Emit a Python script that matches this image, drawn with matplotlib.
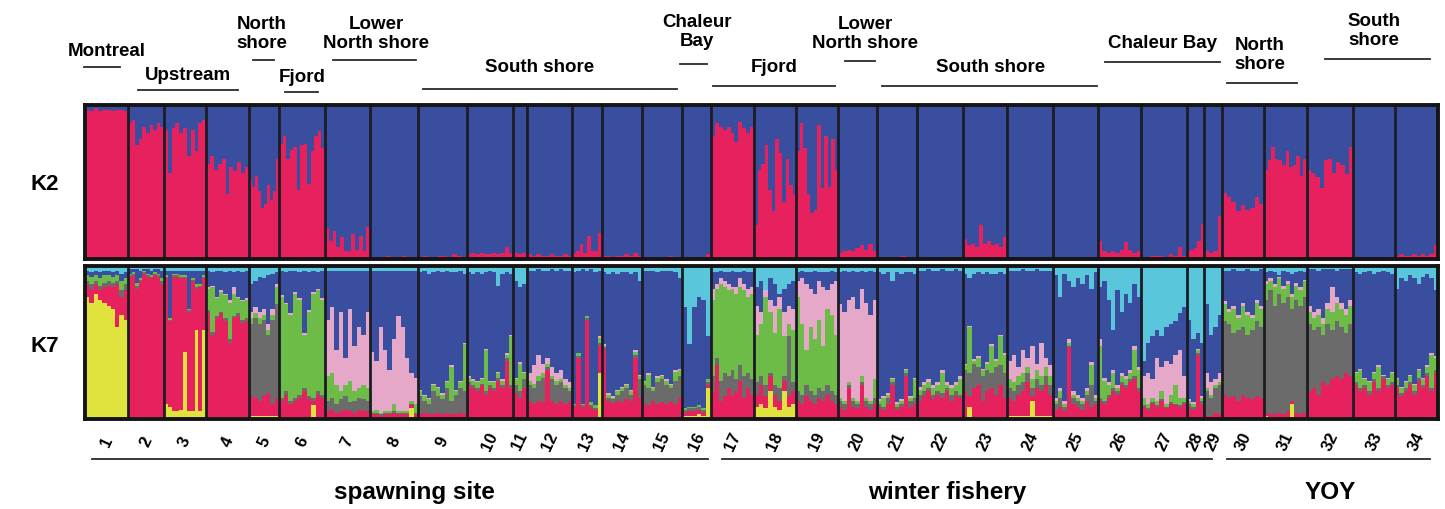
import numpy as np
import matplotlib.pyplot as plt
from matplotlib.lines import Line2D
from matplotlib.transforms import blended_transform_factory

plt.rcParams['font.family'] = ['Liberation Sans', 'DejaVu Sans']
plt.rcParams['font.weight'] = 'bold'

W, H = 1445, 510

# sample size of each population (sets the width of its block)
sample_sizes = [43, 36, 42, 43, 30, 46, 45, 48, 49, 46, 14, 45, 30, 40, 40, 29, 43,
                42, 42, 39, 40, 46, 44, 46, 45, 43, 46, 17, 18, 42, 43, 46, 42, 43]
pop_labels = [str(i) for i in range(1, 35)]

# K=2: membership (%) in the "red" cluster, one value per individual
k2_red = [
    [97, 96, 98, 96, 97, 97, 96, 97, 97, 96],
    [88, 90, 74, 78, 86, 82, 87, 84, 88, 86],
    [84, 56, 85, 88, 82, 85, 67, 84, 70, 88, 90],
    [62, 67, 58, 62, 65, 42, 60, 57, 63, 56, 60],
    [51, 47, 54, 44, 33, 36, 48, 38, 44, 65],
    [75, 80, 65, 71, 73, 45, 74, 75, 49, 70, 80, 83, 72],
    [20, 12, 18, 8, 14, 5, 5, 16, 6, 15, 5, 21],
    [1, 1, 1, 2, 1, 1, 2, 1, 1],
    [1, 2, 1, 1, 2, 2, 1, 3, 2, 1],
    [3, 4, 3, 4, 3, 3, 4, 3, 4, 8, 4],
    [4, 3, 4],
    [3, 2, 3, 2, 2, 3, 2, 2, 3, 2],
    [4, 5, 10, 4, 15, 5, 5, 17],
    [2, 2, 1, 2, 2, 3, 2, 4, 2],
    [1, 1, 1, 1, 1, 1, 2, 1, 1],
    [1, 1, 1, 1, 1, 3],
    [80, 88, 86, 84, 86, 82, 76, 89, 85, 82, 86],
    [22, 58, 62, 74, 45, 31, 78, 69, 37, 65, 48, 42],
    [70, 88, 72, 42, 30, 32, 87, 46, 80, 47, 78, 58],
    [4, 5, 6, 5, 7, 9, 6, 10, 5],
    [1, 1, 1, 1, 2, 1, 1],
    [1, 1, 1, 1, 1, 1, 1, 1],
    [13, 9, 10, 8, 22, 10, 12, 9, 10, 8, 14],
    [0.5, 0.5, 0.5, 0.5, 0.5, 0.5],
    [0.5, 0.5, 0.5, 0.5, 0.5],
    [12, 5, 4, 5, 4, 6, 11, 6, 4, 5],
    [1, 1, 2, 2, 2, 1, 3, 2, 8, 2],
    [5, 6, 7, 12, 23],
    [5, 4, 5, 28],
    [43, 40, 37, 31, 35, 32, 33, 40, 36],
    [58, 64, 73, 65, 64, 61, 70, 60, 61, 67, 54, 65],
    [58, 56, 53, 46, 64, 65, 56, 63, 61, 55, 73],
    [1, 1, 1, 1, 1, 1, 1, 1],
    [2, 3, 2, 2, 3, 2, 3, 2, 3, 9],
]

# K=7: cumulative upper edge (%) of each cluster, stacked from the bottom
# (yellow, red, gray, green, pink, blue; cyan fills the rest). A single
# number means the same value for every individual of that population.
k7_yellow = [
    [80, 76, 82, 78, 76, 74, 72, 60, 68, 65], 1, [10, 8, 5, 5, 6, 44, 5, 5, 58, 5, 58], 1, 2,
    [1, 1, 1, 1, 1, 1, 1, 9, 1, 1], 0, [1, 1, 1, 1, 1, 1, 1, 1, 1, 7, 1], 0, 0, 0, 1,
    [1, 1, 1, 1, 1, 1, 30], 1, 0, [2, 2, 2, 3, 2, 20], 0, [8, 10, 7, 18, 8, 6, 18, 8, 10],
    1, 1, 0, 1, [1, 8, 1, 1, 1, 1, 1, 1, 1, 1], [2, 2, 2, 2, 2, 12, 2, 2, 2, 2], 0, 1, 1,
    0, 0, 0, [2, 1, 1, 1, 1, 1, 10, 1, 1, 1], 1, 0, 0,
]
k7_red = [
    [88, 85, 88, 84, 86, 87, 86, 88, 80, 84],
    [93, 94, 85, 90, 95, 93, 92, 94, 93, 88],
    [92, 64, 93, 93, 92, 92, 70, 90, 85, 86, 92],
    [70, 55, 66, 69, 64, 50, 66, 67, 63, 64],
    [16, 14, 12, 15, 17, 10, 14],
    [12, 16, 10, 12, 14, 18, 13, 12, 16, 14],
    [5, 6, 4, 5, 6, 5, 4, 6, 5, 5],
    [3, 3, 2, 3, 3, 4, 3, 3, 3, 9, 3],
    [3, 4, 3, 3, 4, 3, 4, 3, 3, 4, 3],
    [22, 20, 18, 22, 16, 20, 18, 25, 20, 38, 20],
    [17, 14, 20],
    [12, 10, 12, 11, 32, 12, 10, 12, 10, 12],
    [8, 40, 8, 65, 8, 6, 48],
    [46, 12, 10, 12, 11, 13, 12, 40, 14],
    [10, 9, 12, 10, 11, 10, 12, 10, 14],
    [4, 5, 5, 6, 4, 22],
    [18, 35, 12, 15, 20, 15, 18, 25, 14, 20, 16],
    [16, 22, 15, 28, 16, 12, 25, 15, 18],
    [12, 10, 15, 12, 10, 14, 12, 16, 12, 10],
    [8, 6, 20, 8, 7, 22, 8, 6, 10],
    [8, 6, 10, 22, 6, 8, 28, 8, 10],
    [12, 15, 18, 13, 16, 14, 18, 12, 15, 14],
    [18, 15, 20, 22, 12, 18, 20, 16, 22, 14],
    [14, 12, 16, 18, 24, 15, 20, 18, 22, 16],
    [6, 8, 5, 47, 10, 8, 6, 12, 8, 10],
    [12, 10, 14, 18, 16, 22, 20, 24, 26, 18],
    [8, 6, 10, 8, 12, 7, 10, 9, 8, 10],
    [8, 6, 42, 10],
    [2, 2, 4, 3],
    [16, 14, 15, 12, 16, 14, 13, 15, 14],
    [4, 3, 3, 4, 3, 5, 12, 4, 3, 4],
    [18, 20, 16, 24, 22, 26, 28, 26, 30, 28],
    [22, 18, 20, 16, 24, 18, 26, 20, 22],
    [20, 15, 18, 22, 16, 25, 20, 28, 18, 30],
]
k7_gray = [
    [90, 88, 90, 87, 89, 90, 89, 90, 84, 88],
    [94, 95, 87, 91, 96, 94, 93, 95, 94, 90],
    [93, 65, 94, 94, 93, 93, 71, 91, 86, 87, 93],
    [71, 57, 67, 70, 66, 52, 67, 69, 65, 66],
    [62, 66, 62, 65, 55, 65, 75],
    [14, 18, 12, 14, 16, 20, 15, 14, 18, 16],
    [12, 14, 10, 13, 15, 11, 12, 14, 13, 12],
    [4, 4, 3, 4, 4, 5, 4, 4, 4, 10, 4],
    [15, 12, 10, 18, 15, 13, 20, 12, 16, 20, 18],
    [24, 22, 20, 23, 18, 22, 20, 27, 22, 40, 22],
    [22, 18, 26],
    [22, 20, 25, 27, 34, 26, 22, 24, 20, 18],
    [9, 41, 9, 66, 9, 7, 50],
    [47, 14, 13, 16, 18, 20, 16, 42, 26],
    [22, 20, 18, 24, 26, 22, 20, 25, 28],
    [6, 7, 7, 8, 6, 24],
    [28, 40, 25, 30, 28, 32, 26, 35, 28, 30, 26],
    [24, 28, 22, 30, 22, 20, 28, 54, 24],
    [18, 16, 22, 18, 16, 20, 18, 22, 18, 16],
    [12, 10, 22, 12, 10, 24, 12, 10, 14],
    [10, 8, 14, 24, 8, 10, 30, 12, 14],
    [16, 18, 20, 16, 18, 17, 20, 16, 18, 16],
    [32, 30, 36, 34, 28, 32, 30, 34, 35, 30],
    [20, 18, 22, 24, 30, 20, 26, 22, 28, 22],
    [10, 14, 8, 48, 14, 12, 10, 16, 22, 12],
    [14, 12, 16, 20, 18, 24, 22, 26, 28, 20],
    [9, 7, 11, 9, 13, 8, 11, 10, 9, 11],
    [10, 8, 43, 12],
    [18, 14, 20, 22],
    [64, 62, 56, 58, 60, 55, 58, 64, 60],
    [78, 84, 74, 82, 76, 80, 72, 78, 74, 80],
    [62, 58, 60, 55, 62, 58, 64, 60, 56, 62],
    [24, 20, 22, 18, 26, 20, 28, 22, 24],
    [22, 17, 20, 24, 18, 27, 22, 30, 20, 32],
]
k7_green = [
    [94, 93, 94, 92, 94, 94, 93, 94, 90, 92],
    [95, 96, 89, 92, 97, 95, 94, 96, 95, 92],
    [94, 66, 95, 95, 94, 94, 72, 92, 88, 88, 94],
    [85, 86, 79, 83, 81, 76, 82, 79, 77, 78],
    [66, 69, 66, 68, 58, 68, 86],
    [80, 75, 68, 82, 78, 55, 70, 82, 84, 78],
    [28, 30, 22, 18, 22, 25, 18, 20, 22, 20],
    [5, 6, 4, 5, 5, 10, 5, 5, 5, 12, 10],
    [18, 15, 13, 22, 20, 16, 24, 34, 18, 24, 49],
    [27, 25, 24, 26, 45, 24, 24, 30, 25, 42, 54],
    [26, 36, 30],
    [25, 23, 28, 30, 36, 28, 25, 26, 22, 20],
    [10, 43, 10, 67, 11, 9, 53],
    [48, 16, 14, 18, 20, 22, 18, 44, 28],
    [24, 29, 20, 27, 28, 25, 22, 31, 32],
    [7, 8, 8, 9, 7, 26],
    [78, 85, 88, 86, 84, 85, 82, 86, 84, 80, 82],
    [55, 62, 80, 70, 56, 72, 54, 62, 58],
    [80, 62, 45, 60, 52, 65, 48, 72, 68, 55],
    [14, 12, 24, 14, 12, 28, 14, 12, 26],
    [12, 14, 16, 26, 10, 12, 32, 14, 26],
    [19, 22, 24, 20, 22, 30, 22, 20, 22, 26],
    [35, 60, 38, 40, 32, 36, 48, 38, 54, 42],
    [26, 24, 28, 30, 34, 26, 32, 28, 34, 28],
    [12, 18, 10, 50, 16, 14, 12, 18, 35, 14],
    [48, 25, 22, 30, 20, 28, 26, 30, 45, 32],
    [14, 10, 14, 12, 18, 10, 16, 22, 14, 14],
    [12, 10, 45, 14],
    [20, 16, 22, 24],
    [75, 70, 72, 66, 74, 68, 66, 76, 72],
    [88, 90, 86, 92, 85, 88, 80, 87, 84, 90],
    [70, 66, 68, 62, 72, 70, 76, 72, 68, 74],
    [30, 32, 26, 24, 30, 34, 28, 26, 30],
    [26, 20, 24, 28, 22, 32, 26, 34, 42, 40],
]
k7_pink = [
    [94, 93, 94, 92, 94, 94, 93, 94, 90, 92],
    [95, 96, 89, 92, 97, 95, 94, 96, 95, 92],
    [94, 66, 95, 95, 94, 94, 72, 92, 88, 88, 94],
    [86, 87, 80, 84, 82, 78, 86, 80, 78, 79],
    [70, 73, 70, 72, 62, 72, 88],
    [81, 76, 69, 83, 79, 56, 71, 83, 85, 79],
    [65, 73, 45, 70, 40, 72, 48, 60, 55, 70],
    [44, 38, 60, 45, 32, 52, 67, 60, 40, 30, 27],
    [19, 16, 14, 23, 21, 17, 25, 35, 19, 25, 50],
    [28, 26, 25, 27, 46, 25, 25, 31, 26, 43, 55],
    [27, 37, 31],
    [30, 35, 42, 36, 40, 34, 30, 32, 26, 24],
    [10, 43, 10, 67, 11, 9, 54],
    [49, 17, 15, 19, 21, 23, 19, 45, 29],
    [25, 30, 21, 28, 29, 26, 23, 32, 33],
    [7, 8, 8, 9, 7, 26],
    [85, 88, 92, 90, 88, 86, 86, 92, 88, 85, 86],
    [74, 70, 84, 78, 74, 80, 70, 74, 72],
    [90, 92, 88, 85, 82, 90, 86, 84, 88, 90],
    [75, 70, 78, 80, 72, 85, 76, 68, 78],
    [13, 15, 17, 27, 11, 13, 33, 15, 27],
    [21, 24, 26, 22, 24, 32, 24, 22, 24, 28],
    [36, 61, 39, 41, 33, 37, 49, 39, 55, 43],
    [38, 42, 34, 45, 40, 48, 36, 50, 40, 35],
    [14, 20, 12, 52, 18, 16, 14, 20, 37, 16],
    [52, 27, 24, 32, 22, 30, 28, 32, 48, 34],
    [28, 30, 26, 40, 34, 38, 36, 42, 45, 28],
    [13, 11, 46, 15],
    [30, 24, 26, 30],
    [77, 72, 74, 68, 76, 70, 68, 78, 74],
    [90, 92, 88, 93, 87, 90, 82, 89, 86, 91],
    [74, 70, 72, 66, 76, 86, 80, 76, 72, 78],
    [31, 33, 27, 25, 31, 35, 29, 27, 31],
    [27, 21, 25, 29, 23, 33, 27, 35, 43, 41],
]
k7_blue = [
    [97, 96, 97, 96, 97, 97, 96, 97, 95, 96],
    [98, 98, 98, 97, 98, 98, 97, 98, 98, 97],
    97,
    [97, 96, 97, 97, 96, 97, 96, 97, 96, 97],
    [88, 90, 93, 92, 94, 95, 96],
    [97, 96, 97, 97, 96, 97, 96, 97, 96, 97],
    97,
    97,
    [96, 97, 95, 96, 97, 96, 97, 96, 96, 97, 95],
    [96, 95, 96, 95, 96, 97, 96, 87, 95, 96, 95],
    [90, 86, 88],
    [97, 97, 98, 97, 97, 98, 97, 98, 97, 97],
    [96, 97, 98, 97, 98, 96, 97],
    [96, 95, 96, 95, 96, 96, 95, 96, 90],
    [97, 97, 97, 96, 97, 97, 97, 96, 92],
    [73, 49, 73, 80, 78, 54],
    [96, 96, 97, 96, 96, 97, 96, 96, 97, 96, 96],
    [86, 90, 80, 92, 88, 82, 85, 88, 90],
    [96, 97, 96, 96, 97, 96, 96, 96, 97, 96],
    [96, 97, 96, 97, 96, 97, 96, 97, 96],
    [96, 95, 96, 90, 96, 95, 96, 96, 95],
    [97, 97, 98, 97, 97, 98, 97, 97, 98, 97],
    [95, 92, 95, 96, 95, 96, 95, 95, 96, 95],
    [97, 97, 97, 98, 97, 97, 98, 97, 97, 97],
    [94, 80, 95, 90, 86, 92, 88, 94, 85, 96],
    [86, 90, 78, 58, 84, 70, 82, 76, 88, 80],
    [38, 50, 54, 58, 54, 60, 62, 64, 69, 73],
    [65, 52, 56, 50],
    [75, 55, 60, 68],
    [97, 97, 98, 97, 97, 98, 97, 97, 98],
    [96, 97, 96, 94, 97, 96, 95, 96, 97, 96],
    [98, 98, 97, 98, 98, 98, 97, 98, 98, 98],
    [96, 95, 96, 97, 95, 96, 97, 96, 95],
    [85, 92, 90, 94, 92, 88, 93, 95, 92, 84],
]

RED, BLUE = '#e6215d', '#3a4ea0'
k2_colors = [RED, BLUE]
k7_colors = ['#e0e23e', RED, '#6b6b6b', '#6dbc47', '#e6a8c9', BLUE, '#59c6db']


def stack_tops(columns):
    """Turn per-cluster cumulative tops (lists or scalars) into an array."""
    lists = [c for c in columns if not np.isscalar(c)]
    n = max(len(c) for c in lists) if lists else 1
    rows = [np.full(n, float(c)) if np.isscalar(c) else np.asarray(c, float) for c in columns]
    tops = np.vstack(rows + [np.full(n, 100.0)])
    return np.clip(np.maximum.accumulate(tops, axis=0), 0, 100)


def draw_structure(ax, tops_per_pop, colors):
    left = 0.0
    for size, tops in zip(sample_sizes, tops_per_pop):
        n = tops.shape[1]
        edges = left + np.linspace(0, size, n + 1)
        prev = np.zeros(n)
        # one filled step polygon per cluster, so no seams between individuals
        for top, color in zip(tops, colors):
            ax.stairs(top, edges, baseline=prev, fill=True, color=color, lw=0)
            prev = top
        left += size
    bounds = np.cumsum(sample_sizes)
    for e in bounds[:-1]:
        ax.axvline(e, color='#1c1c24', lw=2.0)
    ax.set_xlim(0, bounds[-1])
    ax.set_ylim(0, 100)
    ax.set_xticks([])
    ax.set_yticks([])
    for s in ax.spines.values():
        s.set_linewidth(2.8)
        s.set_color('#151515')


k2_tops = [stack_tops([r]) for r in k2_red]
k7_tops = [stack_tops([k7_yellow[i], k7_red[i], k7_gray[i], k7_green[i],
                       k7_pink[i], k7_blue[i]]) for i in range(len(sample_sizes))]

fig = plt.figure(figsize=(W / 100, H / 100), dpi=100)


def fx(px):
    return px / W


def fy(py):
    return 1 - py / H


ax2 = fig.add_axes([fx(85), fy(260), fx(1438) - fx(85), fy(106) - fy(260)])
ax7 = fig.add_axes([fx(85), fy(420), fx(1438) - fx(85), fy(267) - fy(420)])
draw_structure(ax2, k2_tops, k2_colors)
draw_structure(ax7, k7_tops, k7_colors)

fig.text(fx(45), fy(184), 'K2', fontsize=16, ha='center', va='center')
fig.text(fx(45), fy(346), 'K7', fontsize=16, ha='center', va='center')

# population numbers under the K7 panel
trans = blended_transform_factory(ax7.transData, ax7.transAxes)
centers = np.cumsum(sample_sizes) - np.asarray(sample_sizes) / 2
for c, lab in zip(centers, pop_labels):
    ax7.text(c, -0.14, lab, rotation=65, ha='center', va='center',
             fontsize=12, transform=trans)


def bracket(x0, x1, y):
    fig.add_artist(Line2D([fx(x0), fx(x1)], [fy(y), fy(y)], color='#2a2a2a', lw=1.3))


# sampling regions along the top (text x, text y, line x0, x1, line y)
regions = [
    ('Montreal', 107, 52, 84, 120, 68),
    ('Upstream', 188, 76, 138, 238, 91),
    ('North\nshore', 262, 34, 253, 274, 61),
    ('Fjord', 302, 77, 285, 318, 93),
    ('Lower\nNorth shore', 376, 34, 333, 416, 61),
    ('South shore', 540, 68, 423, 677, 90),
    ('Chaleur\nBay', 697, 32, 680, 707, 65),
    ('Fjord', 774, 67, 713, 835, 87),
    ('Lower\nNorth shore', 865, 34, 845, 875, 62),
    ('South shore', 991, 67, 882, 1097, 87),
    ('Chaleur Bay', 1163, 43, 1105, 1220, 63),
    ('North\nshore', 1260, 55, 1227, 1297, 84),
    ('South\nshore', 1374, 31, 1325, 1430, 60),
]
for name, tx, ty, x0, x1, ly in regions:
    fig.text(fx(tx), fy(ty), name, fontsize=13.5, ha='center', va='center',
             linespacing=1.1)
    bracket(x0, x1, ly)

# sample types along the bottom
sample_types = [
    ('spawning site', 414, 92, 708),
    ('winter fishery', 947, 722, 1212),
    ('YOY', 1330, 1227, 1430),
]
for name, tx, x0, x1 in sample_types:
    bracket(x0, x1, 460)
    fig.text(fx(tx), fy(493), name, fontsize=17.5, ha='center', va='center')

fig.savefig('out.png', dpi=100)
